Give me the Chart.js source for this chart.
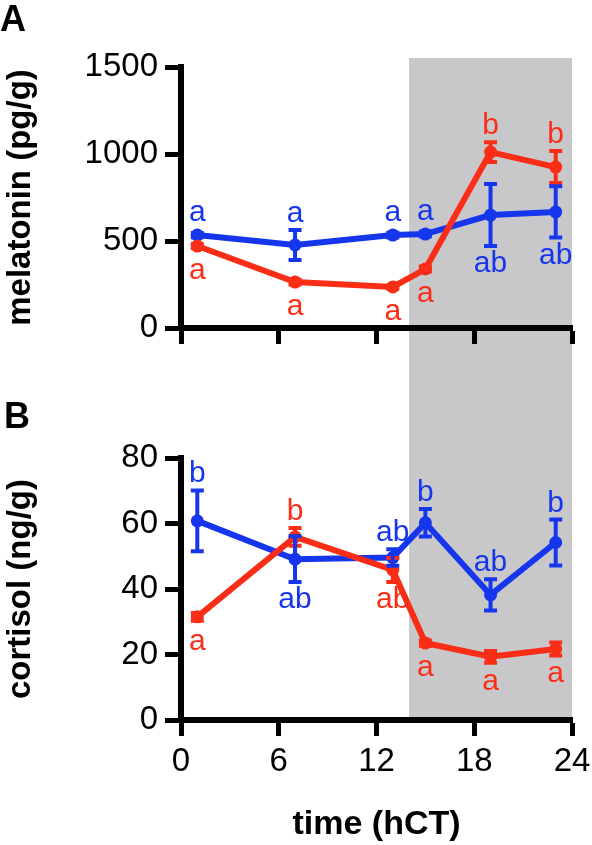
<!doctype html>
<html lang="en">
<head>
<meta charset="utf-8">
<title>Melatonin and cortisol – time course</title>
<style>
  *{box-sizing:border-box;margin:0;padding:0}
  html,body{width:592px;height:845px;background:#fff;overflow:hidden}
  .panel{position:absolute;left:0;width:592px}
  #panelA{top:0;height:360px}
  #panelB{top:360px;height:485px}
</style>
</head>
<body>

<div class="panel" id="panelA"><canvas id="chartA"></canvas></div>
<div class="panel" id="panelB"><canvas id="chartB"></canvas></div>

<script src="https://cdn.jsdelivr.net/npm/chart.js"></script>
<script>
// sampling times (hCT) and x ticks
const hours  = [1, 7, 13, 15, 19, 23];
const xTicks = [0, 6, 12, 18, 24];
const darkStart = 14, darkEnd = 24;

// A: melatonin (pg/g)
const melTicks       = [0, 500, 1000, 1500];
const melRed         = [471, 264, 236, 339, 1011, 925];
const melRedErr      = [12, 14, 10, 14, 57, 92];
const melRedLetters  = ['a', 'a', 'a', 'a', 'b', 'b'];
const melRedSide     = ['below', 'below', 'below', 'below', 'above', 'above'];
const melBlue        = [534, 477, 534, 540, 649, 667];
const melBlueErr     = [12, 86, 14, 14, 178, 147];
const melBlueLetters = ['a', 'a', 'a', 'a', 'ab', 'ab'];
const melBlueSide    = ['above', 'above', 'above', 'above', 'below', 'below'];

// B: cortisol (ng/g)
const corTicks       = [0, 20, 40, 60, 80];
const corRed         = [31.5, 55.9, 45.8, 23.5, 19.3, 21.7];
const corRedErr      = [1.2, 2.7, 3.7, 0.8, 1.8, 2.0];
const corRedLetters  = ['a', 'b', 'ab', 'a', 'a', 'a'];
const corRedSide     = ['below', 'above', 'below', 'below', 'below', 'below'];
const corBlue        = [60.8, 49.1, 49.6, 60.2, 38.2, 54.2];
const corBlueErr     = [9.3, 7.0, 2.5, 4.2, 4.8, 7.0];
const corBlueLetters = ['b', 'ab', 'ab', 'b', 'ab', 'b'];
const corBlueSide    = ['above', 'below', 'above', 'above', 'above', 'above'];

const RED = '#fa2d17', BLUE = '#1536ec', SHADE = '#c8c8cb';
const FONT = '"Liberation Sans", Arial, Helvetica, sans-serif';

// grey "dark phase" box, running across both panels
const nightShade = { id:'nightShade', beforeDraw(c, a, o){
  const {ctx, chartArea:ca, scales:{x}} = c;
  const x0 = x.getPixelForValue(darkStart), x1 = x.getPixelForValue(darkEnd);
  const top = o.continueFromAbove ? 0 : ca.top - 9;
  const bottom = o.continueFromAbove ? ca.bottom : c.height;
  ctx.save(); ctx.fillStyle = SHADE; ctx.fillRect(x0, top, x1 - x0, bottom - top); ctx.restore();
}};

// SEM bars + significance letters
const errLetters = { id:'errLetters', afterDatasetsDraw(c){
  const {ctx, scales:{y}} = c;
  ctx.save();
  c.data.datasets.forEach((ds, i) => {
    const meta = c.getDatasetMeta(i);
    meta.data.forEach((pt, j) => {
      const v = ds.data[j].y, e = ds.errors[j];
      const yt = y.getPixelForValue(v + e), yb = y.getPixelForValue(v - e);
      ctx.strokeStyle = ds.borderColor; ctx.lineWidth = 4; ctx.lineCap = 'butt';
      ctx.beginPath();
      ctx.moveTo(pt.x, yt); ctx.lineTo(pt.x, yb);
      ctx.moveTo(pt.x - 6.5, yt); ctx.lineTo(pt.x + 6.5, yt);
      ctx.moveTo(pt.x - 6.5, yb); ctx.lineTo(pt.x + 6.5, yb);
      ctx.stroke();
      ctx.fillStyle = ds.borderColor; ctx.font = '30px ' + FONT; ctx.textAlign = 'center';
      if (ds.sides[j] === 'above') {
        ctx.textBaseline = 'alphabetic';
        ctx.fillText(ds.letters[j], pt.x, Math.min(yt, pt.y - 6.5) - 8);
      } else {
        ctx.textBaseline = 'top';
        ctx.fillText(ds.letters[j], pt.x, Math.max(yb, pt.y + 6.5) + 3);
      }
    });
  });
  ctx.restore();
}};

const panelLetter = { id:'panelLetter', afterDraw(c, a, o){
  const ctx = c.ctx;
  ctx.save(); ctx.fillStyle = '#000'; ctx.font = 'bold 36px ' + FONT;
  ctx.textAlign = 'left'; ctx.textBaseline = 'alphabetic';
  ctx.fillText(o.text, o.x, o.baseline); ctx.restore();
}};

function series(vals, errs, letters, sides, color){
  return { data: hours.map((h, i) => ({x:h, y:vals[i]})), errors: errs, letters, sides,
    borderColor: color, backgroundColor: color, borderWidth: 6, pointRadius: 6.5,
    pointBorderWidth: 0, tension: 0, clip: false };
}

function noPad(s){ s.paddingLeft = s.paddingRight = s.paddingTop = s.paddingBottom = 0; }

function makePanel(id, p){
  return new Chart(document.getElementById(id), {
    type: 'line',
    data: { datasets: [
      series(p.red, p.redErr, p.redLetters, p.redSide, RED),
      series(p.blue, p.blueErr, p.blueLetters, p.blueSide, BLUE)
    ]},
    plugins: [nightShade, errLetters, panelLetter],
    options: {
      animation: false, responsive: true, maintainAspectRatio: false,
      layout: { padding: {left:0, top:p.top, right:20, bottom:0}, autoPadding: false },
      plugins: {
        legend: {display:false}, tooltip: {enabled:false},
        nightShade: {continueFromAbove: p.continueFromAbove},
        panelLetter: {text: p.letter, x: p.letterX, baseline: p.letterBaseline}
      },
      scales: {
        x: {
          type: 'linear', min: 0, max: 24,
          afterBuildTicks: s => { s.ticks = xTicks.map(v => ({value:v})); },
          afterFit: s => { s.height = p.xHeight; noPad(s); },
          grid: {drawOnChartArea:false, tickLength:16, tickWidth:5, tickColor:'#000'},
          border: {color:'#000', width:6},
          ticks: {display: p.showX, color:'#000', padding:6, maxRotation:0, autoSkip:false,
                  callback: v => String(v), font: {family:FONT, size:33}},
          title: {display: p.showX, text: 'time (hCT)', color:'#000', padding:{top:2, bottom:0},
                  font: {family:FONT, size:34, weight:'bold', lineHeight:1.2}}
        },
        y: {
          min: 0, max: p.yMax,
          afterBuildTicks: s => { s.ticks = p.yTicks.map(v => ({value:v})); },
          afterFit: s => { s.width = 181; noPad(s); },
          grid: {drawOnChartArea:false, tickLength:16, tickWidth:5, tickColor:'#000'},
          border: {color:'#000', width:6},
          ticks: {color:'#000', padding:7, callback: v => String(v), font: {family:FONT, size:33}},
          title: {display:true, text: p.yTitle, color:'#000', padding:{top:1, bottom:0},
                  font: {family:FONT, size:33, weight:'bold', lineHeight:1.2}}
        }
      }
    }
  });
}

makePanel('chartA', {
  red: melRed, redErr: melRedErr, redLetters: melRedLetters, redSide: melRedSide,
  blue: melBlue, blueErr: melBlueErr, blueLetters: melBlueLetters, blueSide: melBlueSide,
  yMax: 1500, yTicks: melTicks, yTitle: 'melatonin (pg/g)',
  top: 67, xHeight: 32, showX: false, continueFromAbove: false,
  letter: 'A', letterX: 0, letterBaseline: 31
});
makePanel('chartB', {
  red: corRed, redErr: corRedErr, redLetters: corRedLetters, redSide: corRedSide,
  blue: corBlue, blueErr: corBlueErr, blueLetters: corBlueLetters, blueSide: corBlueSide,
  yMax: 80, yTicks: corTicks, yTitle: 'cortisol (ng/g)',
  top: 98, xHeight: 125, showX: true, continueFromAbove: true,
  letter: 'B', letterX: 4, letterBaseline: 68
});
</script>
</body>
</html>
